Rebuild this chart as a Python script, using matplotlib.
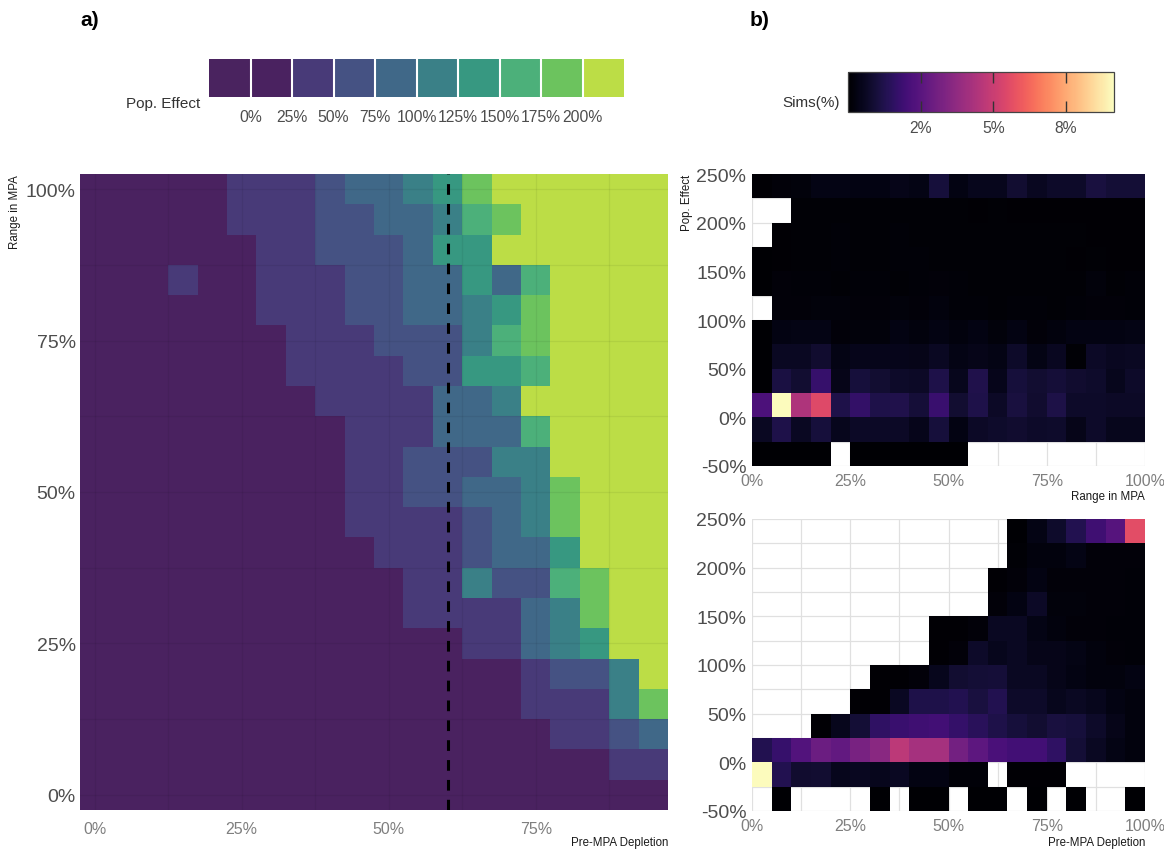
import numpy as np
import matplotlib
matplotlib.use('Agg')
import matplotlib.pyplot as plt
from matplotlib.colors import ListedColormap, BoundaryNorm, Normalize
from matplotlib.cm import ScalarMappable
from matplotlib.ticker import FuncFormatter, FixedLocator

plt.rcParams['font.family'] = ['Liberation Sans', 'DejaVu Sans']

# ---- panel a: population effect class on a depletion x range-in-MPA grid ----
depletion = np.arange(0, 100, 5)          # 20 columns, 0% .. 95%
mpa_range = np.arange(0, 105, 5)          # 21 rows, 0% .. 100%
effect_breaks = [0, 25, 50, 75, 100, 125, 150, 175, 200]
effect_colors = ['#4a235f', '#4a2260', '#483a78', '#455283', '#406888',
                 '#3a8087', '#379881', '#4cb07a', '#6cc35e', '#bcdd46']
# class index per cell: 0 "<0%", 1 "0-25%", ..., 9 ">200%"; first string = 100% range
effect_class = [
    "11111222344568999999",
    "11111222334457899999",
    "11111122333466999999",
    "11121122233446479999",
    "11111122233445689999",
    "11111112223335789999",
    "11111112222336679999",
    "11111111222244599999",
    "11111111122244479999",
    "11111111122333559999",
    "11111111122334458999",
    "11111111122223458999",
    "11111111112223446999",
    "11111111111225337899",
    "11111111111222245899",
    "11111111111112245699",
    "11111111111111123359",
    "11111111111111122258",
    "11111111111111112234",
    "11111111111111111122",
    "11111111111111111111",
]
reference_depletion = 60

# ---- panel b: share of simulations (%) per 5% x 25% bin; first row = 225-250% effect ----
bin_x = np.arange(0, 105, 5)
effect_edges = np.arange(-50, 275, 25)
nan = np.nan
sims_by_range = [
    [0.05, 0.15, 0.2, 0.35, 0.35, 0.3, 0.3, 0.4, 0.35, 1.0, 0.3, 0.5, 0.5, 0.85, 0.55, 0.7, 0.7, 1.05, 0.9, 0.9],
    [nan, nan, 0.1, 0.08, 0.1, 0.1, 0.08, 0.1, 0.08, 0.1, 0.08, 0.06, 0.08, 0.06, 0.06, 0.06, 0.06, 0.05, 0.05, 0.06],
    [nan, 0.05, 0.08, 0.1, 0.12, 0.1, 0.1, 0.12, 0.1, 0.1, 0.1, 0.08, 0.08, 0.08, 0.08, 0.08, 0.08, 0.06, 0.06, 0.06],
    [0.02, 0.06, 0.08, 0.1, 0.12, 0.1, 0.1, 0.12, 0.12, 0.1, 0.1, 0.1, 0.1, 0.08, 0.08, 0.08, 0.06, 0.08, 0.06, 0.06],
    [0.02, 0.15, 0.12, 0.12, 0.1, 0.12, 0.12, 0.1, 0.12, 0.15, 0.12, 0.1, 0.1, 0.1, 0.1, 0.1, 0.1, 0.2, 0.1, 0.12],
    [nan, 0.15, 0.15, 0.2, 0.2, 0.15, 0.15, 0.2, 0.15, 0.25, 0.12, 0.12, 0.1, 0.12, 0.12, 0.1, 0.12, 0.15, 0.15, 0.12],
    [0.02, 0.3, 0.35, 0.35, 0.15, 0.2, 0.2, 0.3, 0.25, 0.3, 0.25, 0.3, 0.2, 0.3, 0.15, 0.25, 0.3, 0.3, 0.3, 0.35],
    [0.02, 0.6, 0.6, 0.8, 0.35, 0.45, 0.45, 0.45, 0.4, 0.6, 0.35, 0.4, 0.35, 0.7, 0.35, 0.55, 0.1, 0.65, 0.55, 0.6],
    [0.02, 1.1, 0.85, 1.75, 0.4, 1.0, 0.85, 0.7, 0.65, 1.2, 0.5, 1.25, 0.45, 1.0, 0.85, 0.95, 0.8, 0.75, 0.5, 0.7],
    [2.2, 9.1, 4.4, 5.5, 1.2, 1.65, 1.2, 1.25, 0.95, 1.8, 0.85, 1.2, 0.65, 1.05, 0.8, 1.15, 0.7, 0.7, 0.65, 0.65],
    [0.6, 1.2, 0.6, 1.0, 0.5, 0.65, 0.65, 0.65, 0.45, 1.0, 0.3, 0.65, 0.75, 0.8, 0.7, 0.75, 0.4, 0.7, 0.5, 0.5],
    [0.03, 0.03, 0.03, 0.03, nan, 0.03, 0.03, 0.03, 0.03, 0.03, 0.03, nan, nan, nan, nan, nan, nan, nan, nan, nan],
]
sims_by_depletion = [
    [nan] * 13 + [0.03, 0.35, 0.75, 1.3, 1.9, 2.4, 5.6],
    [nan] * 13 + [0.1, 0.25, 0.25, 0.35, 0.15, 0.15, 0.15],
    [nan] * 12 + [0.05, 0.15, 0.3, 0.15, 0.15, 0.15, 0.15, 0.12],
    [nan] * 12 + [0.15, 0.3, 0.65, 0.2, 0.2, 0.15, 0.15, 0.12],
    [nan] * 9 + [0.05, 0.05, 0.15, 0.6, 0.6, 0.35, 0.25, 0.15, 0.15, 0.12, 0.12],
    [nan] * 9 + [0.05, 0.15, 0.7, 0.5, 0.6, 0.4, 0.4, 0.35, 0.25, 0.15, 0.12],
    [nan] * 6 + [0.05, 0.05, 0.15, 0.5, 0.85, 0.9, 0.95, 0.6, 0.6, 0.4, 0.3, 0.25, 0.25, 0.3],
    [nan] * 5 + [0.05, 0.05, 0.6, 1.2, 1.2, 1.3, 1.05, 1.3, 0.7, 0.7, 0.5, 0.6, 0.5, 0.3, 0.25],
    [nan] * 3 + [0.05, 0.5, 0.9, 1.6, 1.8, 1.9, 2.0, 1.7, 1.45, 1.2, 1.0, 0.85, 1.05, 1.0, 0.7, 0.4, 0.25],
    [1.3, 1.75, 2.35, 2.9, 2.7, 3.2, 3.6, 4.7, 4.2, 4.2, 3.1, 2.6, 2.15, 2.0, 2.0, 1.6, 0.9, 0.6, 0.35, 0.25],
    [9.1, 1.3, 0.8, 0.85, 0.5, 0.55, 0.5, 0.6, 0.3, 0.3, 0.12, 0.12, nan, 0.05, 0.05, 0.05, nan, nan, nan, nan],
    [nan, 0.03, nan, nan, nan, nan, 0.03, nan, 0.03, 0.03, nan, 0.03, 0.03, nan, 0.03, nan, 0.03, nan, nan, 0.03],
]
sims_ticks = [2.5, 5, 7.5]
sims_max = 9.15

pct = FuncFormatter(lambda v, p: f'{v:.0f}%')
W, H = 1164, 853


def box(x0, y0, x1, y1):
    # pixel box (top-left origin) -> figure fraction rect
    return [x0 / W, 1 - y1 / H, (x1 - x0) / W, (y1 - y0) / H]


def clean(ax):
    for s in ax.spines.values():
        s.set_visible(False)
    ax.tick_params(which='both', length=0)


fig = plt.figure(figsize=(W / 100, H / 100), dpi=100)

# ---------------- panel a ----------------
ax = fig.add_axes(box(80, 175, 668, 811))
grid_a = np.array([[int(c) for c in row] for row in effect_class[::-1]])
xe = np.append(depletion - 2.5, depletion[-1] + 2.5)
ye = np.append(mpa_range - 2.5, mpa_range[-1] + 2.5)
ax.pcolormesh(xe, ye, grid_a, cmap=ListedColormap(effect_colors),
              norm=BoundaryNorm(np.arange(-0.5, 10.5, 1), 10))
ax.axvline(reference_depletion, color='black', lw=2.2, ls=(0, (3.5, 3)), zorder=4)
ax.set_xlim(xe[0], xe[-1])
ax.set_ylim(ye[0], ye[-1])
ax.set_xticks([0, 25, 50, 75])
ax.set_yticks([0, 25, 50, 75, 100])
ax.xaxis.set_minor_locator(FixedLocator([12.5, 37.5, 62.5, 87.5]))
ax.yaxis.set_minor_locator(FixedLocator([12.5, 37.5, 62.5, 87.5]))
ax.xaxis.set_major_formatter(pct)
ax.yaxis.set_major_formatter(pct)
ax.set_axisbelow(False)
ax.grid(which='both', color='black', alpha=0.06, lw=0.9, zorder=3)
clean(ax)
ax.tick_params(axis='y', labelsize=14, labelcolor='#4d4d4d', pad=3)
ax.tick_params(axis='x', labelsize=11.5, labelcolor='#7f7f7f', pad=8)

fig.text(15 / W, 1 - 175 / H, 'Range in MPA', rotation=90, ha='center', va='top',
         fontsize=8.3, color='#1a1a1a')
fig.text(668 / W, 1 - 843 / H, 'Pre-MPA Depletion', ha='right', va='center',
         fontsize=8.3, color='#1a1a1a')

# legend for panel a
cax = fig.add_axes(box(209, 60, 624, 98))
sm = ScalarMappable(norm=BoundaryNorm(np.arange(-25, 250, 25), 10),
                    cmap=ListedColormap(effect_colors))
cb = fig.colorbar(sm, cax=cax, orientation='horizontal', ticks=effect_breaks, drawedges=True)
cb.outline.set_visible(False)
cb.dividers.set_color('white')
cb.dividers.set_linewidth(1.5)
cb.ax.xaxis.set_major_formatter(pct)
cax.minorticks_off()
cax.tick_params(which='both', length=0, labelsize=11.3, labelcolor='#4d4d4d', pad=9)
fig.text(200 / W, 1 - 104 / H, 'Pop. Effect', ha='right', va='center', fontsize=11,
         color='#333333')

fig.text(80 / W, 1 - 20 / H, 'a)', ha='left', va='center', fontsize=15, fontweight='bold')
fig.text(750 / W, 1 - 20 / H, 'b)', ha='left', va='center', fontsize=15, fontweight='bold')

# ---------------- panel b ----------------
norm_b = Normalize(0, sims_max)
panels = [(box(752, 175, 1145, 467), sims_by_range, 'Range in MPA', 497),
          (box(752, 520, 1145, 812), sims_by_depletion, 'Pre-MPA Depletion', 843)]
for rect, data, xlabel, xlab_y in panels:
    axb = fig.add_axes(rect)
    z = np.ma.masked_invalid(np.array(data, dtype=float)[::-1])
    axb.pcolormesh(bin_x, effect_edges, z, cmap='magma', norm=norm_b)
    axb.set_xlim(0, 100)
    axb.set_ylim(-50, 250)
    axb.set_xticks([0, 25, 50, 75, 100])
    axb.set_yticks([-50, 0, 50, 100, 150, 200, 250])
    axb.xaxis.set_minor_locator(FixedLocator([12.5, 37.5, 62.5, 87.5]))
    axb.yaxis.set_minor_locator(FixedLocator([-25, 25, 75, 125, 175, 225]))
    axb.xaxis.set_major_formatter(pct)
    axb.yaxis.set_major_formatter(pct)
    axb.set_axisbelow(True)
    axb.grid(which='both', color='#e0e0e0', lw=0.9)
    clean(axb)
    axb.tick_params(axis='y', labelsize=14, labelcolor='#4d4d4d', pad=4)
    axb.tick_params(axis='x', labelsize=11.5, labelcolor='#7f7f7f', pad=5)
    fig.text(1145 / W, 1 - xlab_y / H, xlabel, ha='right', va='center',
             fontsize=8.3, color='#1a1a1a')

fig.text(687 / W, 1 - 175 / H, 'Pop. Effect', rotation=90, ha='center', va='top',
         fontsize=8.3, color='#1a1a1a')

# colour bar for panel b
cbx = fig.add_axes(box(848, 73, 1114, 113))
cb2 = fig.colorbar(ScalarMappable(norm=norm_b, cmap='magma'), cax=cbx,
                   orientation='horizontal', ticks=sims_ticks)
cb2.ax.xaxis.set_major_formatter(pct)
cb2.outline.set_edgecolor('#444444')
cb2.outline.set_linewidth(0.9)
cbx.minorticks_off()
cbx.tick_params(direction='in', length=8, width=1, color='#333333', top=True, bottom=True,
                labeltop=False, labelsize=11.3, labelcolor='#4d4d4d', pad=6)
fig.text(840 / W, 1 - 103 / H, 'Sims(%)', ha='right', va='center', fontsize=11,
         color='#333333')

fig.savefig('out.png', dpi=100)
